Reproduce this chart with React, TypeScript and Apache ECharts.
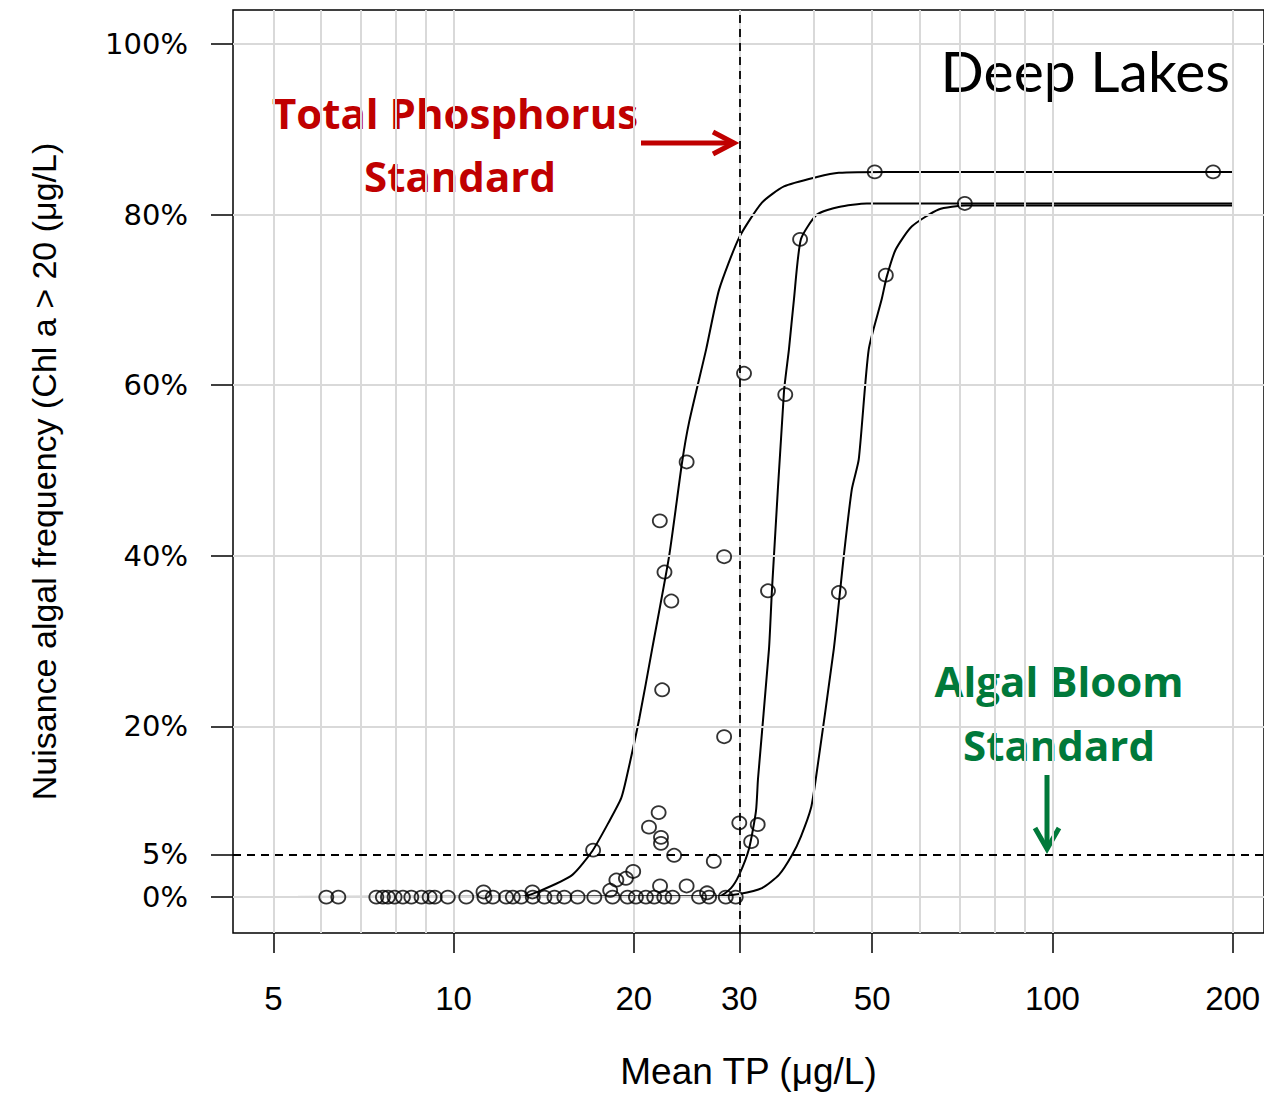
import React, { useEffect, useRef } from "react";
import * as echarts from "echarts";

// ---- axis definitions ----
const xTickValues = [5, 10, 20, 30, 50, 100, 200];
const xGridValues = [5, 6, 7, 8, 9, 10, 20, 30, 40, 50, 60, 70, 80, 90, 100, 200];
const yTickValues = [0, 5, 20, 40, 60, 80, 100];
const yGridValues = [0, 20, 40, 60, 80, 100];
const tpStandard = 30;
const bloomStandard = 5;

// ---- fitted curves (mean TP µg/L, nuisance frequency %) ----
const curveA_tp = [5, 12.88, 13.91, 15.79, 17.05, 18.2, 19.05, 19.43, 20.42, 21.46, 22.91, 24.08, 24.74, 26.41, 27.76, 29.98, 32.73, 35.62, 40.44, 43.98, 53.29, 200];
const curveA_freq = [0, 0, 0.7, 2.6, 5.4, 8.9, 11.6, 13.9, 20.9, 29.1, 40.0, 51.0, 55.7, 64.2, 71.2, 77.3, 81.4, 83.3, 84.4, 84.9, 85.0, 85.0];

const curveB_tp = [5, 27.76, 29.06, 29.98, 31.15, 31.99, 32.24, 33.63, 34.02, 35.62, 36.31, 37.02, 38.02, 40.44, 43.98, 48.98, 200];
const curveB_freq = [0, 0.1, 1.05, 2.6, 5.7, 10.1, 13.9, 29.1, 36.1, 59.2, 64.2, 70.1, 77.1, 80.0, 80.9, 81.3, 81.3];

const curveC_tp = [5, 27.76, 29.98, 32.73, 34.94, 36.73, 38.02, 39.51, 40.27, 43.15, 44.84, 46.24, 47.49, 49.35, 51.88, 52.88, 54.74, 58.21, 64.57, 71.61, 200];
const curveC_freq = [0, 0.1, 0.35, 1.05, 2.6, 4.9, 7.1, 10.4, 13.9, 29.1, 40.0, 47.8, 51.3, 64.2, 70.1, 72.7, 75.9, 78.6, 80.6, 81.05, 81.05];

// ---- observed lakes ----
const obsTP = [
  6.13, 6.42, 7.43, 7.62, 7.77, 7.97, 8.23, 8.5, 8.84, 9.12, 9.3, 9.78, 10.5, 11.26, 11.63, 12.24, 12.56, 12.97,
  13.56, 14.18, 14.74, 15.31, 16.11, 17.18, 18.43, 19.52, 20.16, 20.95, 21.63, 22.48, 23.21, 25.7, 26.71, 28.48, 29.59,
  11.22, 13.54, 18.26, 22.12, 24.5, 26.5,
  17.1, 18.7, 19.4, 19.95, 21.2, 22.0, 22.2, 22.2, 23.35, 27.2, 28.3, 28.3, 24.5, 22.1, 22.5, 23.1, 22.3,
  30.55, 35.8, 33.5, 37.9, 50.5, 185.5, 71.4, 52.7, 44.0, 30.0, 32.2, 31.4,
];
const obsFreq = [
  0, 0, 0, 0, 0, 0, 0, 0, 0, 0, 0, 0, 0, 0, 0, 0, 0, 0,
  0, 0, 0, 0, 0, 0, 0, 0, 0, 0, 0, 0, 0, 0, 0, 0, 0,
  0.6, 0.6, 0.8, 1.3, 1.3, 0.5,
  5.5, 2.0, 2.2, 3.0, 8.2, 9.9, 7.0, 6.3, 4.9, 4.2, 18.8, 39.9, 51.0, 44.1, 38.1, 34.7, 24.3,
  61.4, 58.9, 35.9, 77.1, 85.0, 85.0, 81.3, 72.9, 35.7, 8.7, 8.5, 6.5,
];

const zip = (xs: number[], ys: number[]) => xs.map((x, i) => [x, ys[i]]);

const narrow = "'Liberation Sans Narrow', 'Liberation Sans', Arial, sans-serif";
const red = "#C00000";
const green = "#00793A";
const annotFont = "bold 42px 'Open Sans', 'Noto Sans', sans-serif";

export default function App() {
  const ref = useRef<HTMLDivElement>(null);

  useEffect(() => {
    if (!ref.current) return;
    const chart = echarts.init(ref.current, null, { renderer: "svg" });

    const curveStyle = { color: "#000", width: 2 };
    const curveSeries = (name: string, xs: number[], ys: number[]) => ({
      name,
      type: "line",
      data: zip(xs, ys),
      showSymbol: false,
      symbol: "none",
      smooth: 0.2,
      lineStyle: curveStyle,
      z: 4,
      silent: true,
    });

    const option: any = {
      animation: false,
      backgroundColor: "#ffffff",
      grid: {
        left: 233,
        top: 10,
        width: 1033,
        height: 925,
        show: true,
        borderColor: "#000",
        borderWidth: 1.5,
        backgroundColor: "transparent",
        containLabel: false,
      },
      xAxis: {
        type: "log",
        logBase: 10,
        min: 4.282,
        max: 225.6,
        name: "Mean TP (\u03BCg/L)",
        nameLocation: "middle",
        nameGap: 120,
        nameTextStyle: { fontFamily: narrow, fontSize: 37, color: "#000" },
        axisLine: { show: false, onZero: false },
        axisTick: {
          show: true,
          length: 20,
          customValues: xTickValues,
          lineStyle: { color: "#000", width: 1.5 },
        },
        axisLabel: {
          customValues: xTickValues,
          formatter: (v: number) => String(Math.round(v)),
          margin: 49,
          fontFamily: narrow,
          fontSize: 33,
          color: "#000",
        },
        splitLine: { show: false },
        minorTick: { show: false },
        minorSplitLine: { show: false },
      },
      yAxis: {
        type: "value",
        min: -4.21,
        max: 103.98,
        name: "Nuisance algal frequency (Chl a > 20 (\u03BCg/L)",
        nameLocation: "middle",
        nameRotate: 90,
        nameGap: 172,
        nameTextStyle: { fontFamily: narrow, fontSize: 34, color: "#000" },
        axisLine: { show: false, onZero: false },
        axisTick: {
          show: true,
          length: 22,
          customValues: yTickValues,
          lineStyle: { color: "#000", width: 1.5 },
        },
        axisLabel: {
          customValues: yTickValues,
          formatter: (v: number) => Math.round(v) + "%",
          margin: 45,
          fontFamily: "'DejaVu Sans', sans-serif",
          fontSize: 29,
          color: "#000",
        },
        splitLine: { show: false },
      },
      series: [
        {
          name: "grid",
          type: "line",
          data: [],
          silent: true,
          z: 1,
          markLine: {
            silent: true,
            symbol: ["none", "none"],
            label: { show: false },
            lineStyle: { color: "#d9d9d9", width: 2, type: "solid" },
            data: [
              ...xGridValues.map((v) => ({ xAxis: v })),
              ...yGridValues.map((v) => ({ yAxis: v })),
            ],
          },
        },
        {
          name: "standards",
          type: "line",
          data: [],
          silent: true,
          z: 3,
          markLine: {
            silent: true,
            symbol: ["none", "none"],
            label: { show: false },
            lineStyle: { color: "#000", width: 1.8, type: [8, 6] },
            data: [{ xAxis: tpStandard }, { yAxis: bloomStandard }],
          },
        },
        curveSeries("Curve A", curveA_tp, curveA_freq),
        curveSeries("Curve B", curveB_tp, curveB_freq),
        curveSeries("Curve C", curveC_tp, curveC_freq),
        {
          name: "Lakes",
          type: "scatter",
          data: zip(obsTP, obsFreq),
          symbol: "circle",
          symbolSize: [14, 13],
          itemStyle: { color: "rgba(255,255,255,0)", borderColor: "#000", borderWidth: 1.8 },
          z: 5,
          silent: true,
        },
      ],
      graphic: [
        {
          type: "text",
          x: 1230,
          y: 70,
          style: {
            text: "Deep Lakes",
            fill: "#000",
            font: "57px Lato, 'Open Sans', sans-serif",
            textAlign: "right",
            textVerticalAlign: "middle",
          },
        },
        {
          type: "text",
          x: 455,
          y: 112,
          style: { text: "Total Phosphorus", fill: red, font: annotFont, textAlign: "center", textVerticalAlign: "middle" },
        },
        {
          type: "text",
          x: 460,
          y: 175,
          style: { text: "Standard", fill: red, font: annotFont, textAlign: "center", textVerticalAlign: "middle" },
        },
        {
          type: "line",
          shape: { x1: 641, y1: 143, x2: 733, y2: 143 },
          style: { stroke: red, lineWidth: 5 },
        },
        {
          type: "polyline",
          shape: { points: [[713, 132], [734, 143], [713, 154]] },
          style: { stroke: red, lineWidth: 5, fill: "none", lineJoin: "miter" },
        },
        {
          type: "text",
          x: 1059,
          y: 680,
          style: { text: "Algal Bloom", fill: green, font: annotFont, textAlign: "center", textVerticalAlign: "middle" },
        },
        {
          type: "text",
          x: 1059,
          y: 744,
          style: { text: "Standard", fill: green, font: annotFont, textAlign: "center", textVerticalAlign: "middle" },
        },
        {
          type: "line",
          shape: { x1: 1047, y1: 775, x2: 1047, y2: 848 },
          style: { stroke: green, lineWidth: 5 },
        },
        {
          type: "polyline",
          shape: { points: [[1035, 828], [1047, 849], [1059, 828]] },
          style: { stroke: green, lineWidth: 5, fill: "none", lineJoin: "miter" },
        },
      ],
    };

    chart.setOption(option);
    return () => {
      chart.dispose();
    };
  }, []);

  return (
    <div
      ref={ref}
      style={{ position: "fixed", left: 0, top: 0, width: 1264, height: 1095, background: "#fff" }}
    />
  );
}
